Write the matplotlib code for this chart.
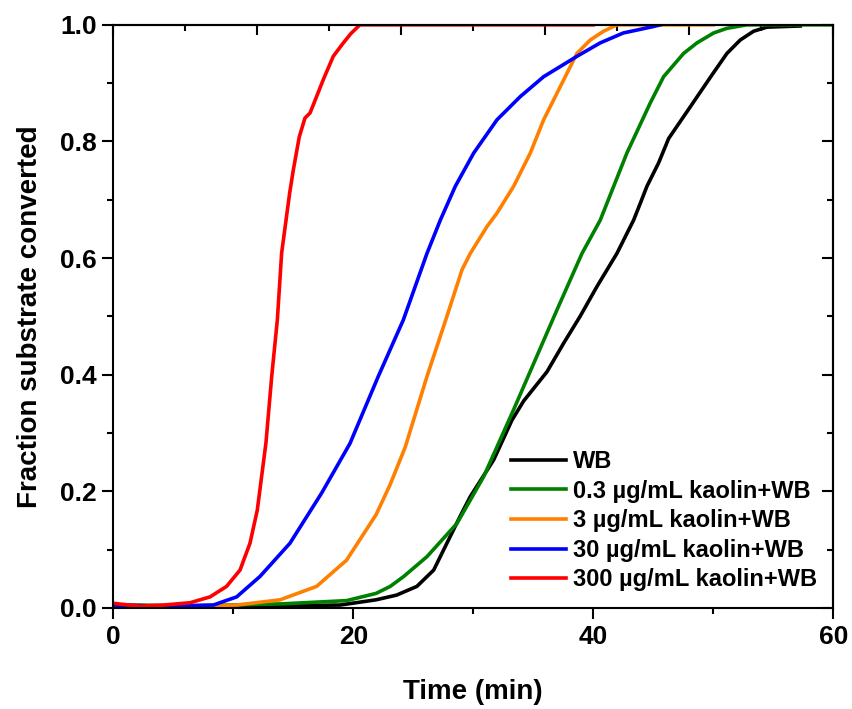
import numpy as np
from matplotlib import pyplot as plt
from matplotlib.ticker import MultipleLocator

plt.rcParams['font.family'] = ['Liberation Sans', 'DejaVu Sans']
plt.rcParams['font.weight'] = 'bold'

# datos (tiempo en min, fraccion convertida)
t_wb = [0, 10, 18.9, 21.9, 23.6, 25.3, 26.7, 27.8, 28.9, 29.75, 31.7, 33.22, 34.2,
        36.14, 37.53, 38.9, 40.3, 41.97, 43.36, 43.92, 44.47, 45.44, 46.28, 47.94,
        49.89, 51.14, 52.25, 53.36, 54.47, 57.25]
y_wb = [0.005, 0.003, 0.005, 0.014, 0.022, 0.037, 0.065, 0.111, 0.157, 0.191, 0.254,
        0.322, 0.355, 0.405, 0.454, 0.5, 0.551, 0.608, 0.665, 0.694, 0.723, 0.763,
        0.805, 0.855, 0.914, 0.951, 0.974, 0.989, 0.996, 0.998]

t_03 = [0, 5, 14, 19.44, 21.9, 23.08, 24.2, 26.14, 28.64, 30.86, 33.36, 36.97, 39.06,
        40.58, 42.8, 44.75, 45.86, 47.53, 48.64, 50.03, 51.14, 52.8, 60]
y_03 = [0.005, 0.003, 0.007, 0.0126, 0.025, 0.037, 0.054, 0.088, 0.145, 0.225, 0.34,
        0.511, 0.608, 0.665, 0.78, 0.866, 0.911, 0.951, 0.969, 0.986, 0.994, 1.0, 1.0]

t_3 = [0, 5, 10.3, 13.9, 16.94, 19.44, 21.9, 23.08, 24.33, 26.14, 27.8, 29.06, 29.75,
       31.14, 31.97, 33.36, 34.75, 35.86, 37.25, 38.64, 39.75, 40.86, 41.97, 50]
y_3 = [0.005, 0.003, 0.005, 0.014, 0.037, 0.082, 0.16, 0.212, 0.276, 0.397, 0.5,
       0.58, 0.608, 0.654, 0.677, 0.723, 0.78, 0.837, 0.894, 0.951, 0.974, 0.989, 1.0, 1.0]

t_30 = [0, 4, 8.33, 10.28, 12.22, 14.72, 17.36, 19.72, 22.08, 24.17, 26.14, 27.25,
        28.5, 30.03, 31.97, 33.92, 35.86, 38.64, 40.58, 42.5, 45.0, 45.6]
y_30 = [0.005, 0.003, 0.005, 0.019, 0.054, 0.111, 0.197, 0.282, 0.397, 0.494, 0.608,
        0.665, 0.723, 0.78, 0.837, 0.877, 0.911, 0.946, 0.969, 0.986, 0.997, 1.0]

t_300 = [0, 2.2, 4.2, 6.4, 8.06, 9.44, 10.56, 11.39, 12.0, 12.72, 13.2, 13.67, 14.03,
         14.7, 15.0, 15.5, 15.97, 16.4, 16.94, 17.5, 18.33, 19.17, 19.8, 20.55, 40]
y_300 = [0.008, 0.003, 0.005, 0.009, 0.019, 0.037, 0.065, 0.111, 0.168, 0.283, 0.397,
         0.494, 0.609, 0.712, 0.751, 0.808, 0.84, 0.849, 0.877, 0.906, 0.946, 0.969,
         0.985, 1.0, 1.0]

etiquetas = ['WB', '0.3 µg/mL kaolin+WB', '3 µg/mL kaolin+WB',
             '30 µg/mL kaolin+WB', '300 µg/mL kaolin+WB']
colores = ['black', '#008000', '#ff8000', '#0000ff', '#ff0000']

fig, ax = plt.subplots(figsize=(8.52, 7.09), dpi=100)
fig.subplots_adjust(left=0.133, right=0.978, top=0.965, bottom=0.1425)

series = [(t_wb, y_wb), (t_03, y_03), (t_3, y_3), (t_30, y_30), (t_300, y_300)]
for (t, y), lab, c in zip(series, etiquetas, colores):
    ax.plot(t, y, color=c, linewidth=2.6, label=lab)

ax.set_xlim(0, 60)
ax.set_ylim(0, 1.0)
ax.xaxis.set_major_locator(MultipleLocator(20))
ax.xaxis.set_minor_locator(MultipleLocator(10))
ax.yaxis.set_major_locator(MultipleLocator(0.2))
ax.yaxis.set_minor_locator(MultipleLocator(0.1))
ax.yaxis.set_major_formatter(plt.FormatStrFormatter('%.1f'))
ax.tick_params(which='major', direction='out', length=8, width=1.5, labelsize=19, pad=4)
ax.tick_params(which='minor', direction='out', length=4.5, width=1.5)
for s in ax.spines.values():
    s.set_linewidth(1.5)

# ejes secundarios (arriba y derecha) con marcas hacia adentro
top = ax.secondary_xaxis('top')
top.xaxis.set_major_locator(MultipleLocator(12))
top.xaxis.set_minor_locator(MultipleLocator(6))
top.tick_params(which='major', direction='in', length=7, width=1.5, labeltop=False)
top.tick_params(which='minor', direction='in', length=4.5, width=1.5)
top.spines['top'].set_linewidth(1.5)

der = ax.secondary_yaxis('right')
der.yaxis.set_major_locator(MultipleLocator(0.2))
der.yaxis.set_minor_locator(MultipleLocator(0.1))
der.tick_params(which='major', direction='in', length=8, width=1.5, labelright=False)
der.tick_params(which='minor', direction='in', length=4.5, width=1.5)
der.spines['right'].set_linewidth(1.5)

ax.set_xlabel('Time (min)', fontsize=20, fontweight='bold', labelpad=22)
ax.set_ylabel('Fraction substrate converted', fontsize=20, fontweight='bold', labelpad=12)

ax.legend(loc='lower right', frameon=False, fontsize=17, handlelength=2.3,
          handletextpad=0.3, labelspacing=0.28, borderaxespad=0.3)

plt.savefig('out.png', dpi=100)
